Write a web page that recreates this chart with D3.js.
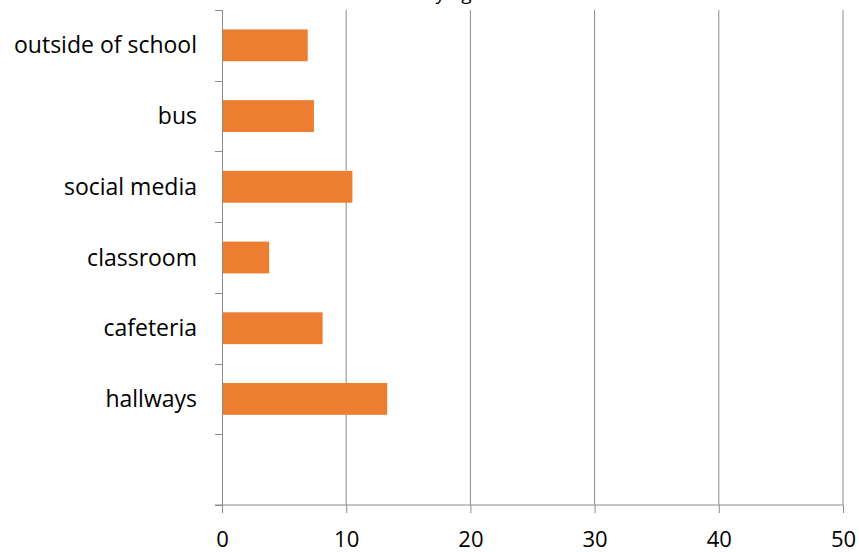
<!DOCTYPE html>
<html>
<head>
<meta charset="utf-8">
<script src="https://cdn.jsdelivr.net/npm/d3@7"></script>
<style>
  body { margin: 0; background: #fff; }
  svg { display: block; font-family: "Open Sans", Lato, sans-serif; }
</style>
</head>
<body>
<div id="chart"></div>
<script>
// chart data
const categories = ['outside of school', 'bus', 'social media', 'classroom', 'cafeteria', 'hallways', ''];
const values = [6.9, 7.4, 10.5, 3.8, 8.1, 13.3, null];
const xTicks = [0, 10, 20, 30, 40, 50];
const title = 'Where bullying occurs';

const width = 859, height = 552;
const margin = { top: 10, right: 16, bottom: 47, left: 222 };
const innerW = width - margin.left - margin.right;
const innerH = height - margin.top - margin.bottom;

const svg = d3.select('#chart').append('svg')
  .attr('width', width)
  .attr('height', height);

// title, mostly above the top edge like in the original
svg.append('text')
  .attr('x', 437)
  .attr('y', 0)
  .attr('text-anchor', 'middle')
  .attr('font-size', 19)
  .attr('fill', '#000')
  .text(title);

const g = svg.append('g')
  .attr('transform', `translate(${margin.left},${margin.top})`);

const x = d3.scaleLinear().domain([0, 50]).range([0, innerW]);
const y = d3.scaleBand().domain(categories.map((c, i) => i)).range([0, innerH]).paddingInner(0).paddingOuter(0);

// vertical gridlines
g.selectAll('.grid')
  .data(xTicks.slice(1))
  .enter().append('line')
  .attr('class', 'grid')
  .attr('x1', d => x(d)).attr('x2', d => x(d))
  .attr('y1', 0).attr('y2', innerH)
  .attr('stroke', '#8c8c8c').attr('stroke-width', 1);

// bars
const barH = y.bandwidth() * 0.45;
g.selectAll('.bar')
  .data(values.map((v, i) => ({ v, i })).filter(d => d.v != null))
  .enter().append('rect')
  .attr('class', 'bar')
  .attr('x', x(0))
  .attr('y', d => y(d.i) + (y.bandwidth() - barH) / 2)
  .attr('width', d => x(d.v) - x(0))
  .attr('height', barH)
  .attr('fill', '#ED7D31');

// x axis
const xAxis = g.append('g')
  .attr('transform', `translate(0,${innerH})`)
  .call(d3.axisBottom(x).tickValues(xTicks).tickSize(8).tickPadding(18).tickSizeOuter(0));
xAxis.select('.domain').remove();
xAxis.append('line')
  .attr('x1', -7).attr('x2', innerW)
  .attr('stroke', '#8c8c8c');
xAxis.selectAll('.tick line').attr('stroke', '#8c8c8c');
xAxis.selectAll('.tick text').attr('font-size', 22).attr('fill', '#000')
  .style('font-family', '"Open Sans", sans-serif');

// y axis: ticks at band boundaries
const yAxis = g.append('g');
yAxis.append('line')
  .attr('x1', 0.5).attr('x2', 0.5)
  .attr('y1', 0).attr('y2', innerH + 8)
  .attr('stroke', '#8c8c8c');
const bounds = d3.range(categories.length + 1).map(i => i * y.step());
yAxis.selectAll('.ytick')
  .data(bounds)
  .enter().append('line')
  .attr('x1', -7).attr('x2', 0)
  .attr('y1', d => Math.round(d) + 0.5).attr('y2', d => Math.round(d) + 0.5)
  .attr('stroke', '#8c8c8c');
yAxis.selectAll('.ylabel')
  .data(categories)
  .enter().append('text')
  .attr('x', -25)
  .attr('y', (d, i) => y(i) + y.bandwidth() / 2)
  .attr('dy', '0.35em')
  .attr('text-anchor', 'end')
  .attr('font-size', 23)
  .attr('fill', '#000')
  .text(d => d);
</script>
</body>
</html>
